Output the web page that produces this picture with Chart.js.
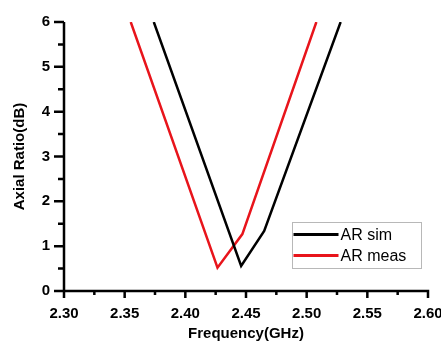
<!DOCTYPE html>
<html>
<head>
<meta charset="utf-8">
<script src="https://cdn.jsdelivr.net/npm/chart.js@4/dist/chart.umd.min.js"></script>
<style>
html,body{margin:0;padding:0;background:#fff;}
#wrap{width:441px;height:343px;position:relative;}
</style>
</head>
<body>
<div id="wrap"><canvas id="c" width="441" height="343"></canvas></div>
<script>
const simFreq = [2.374, 2.446, 2.465, 2.528];
const simAR   = [6, 0.56, 1.34, 6];
const measFreq = [2.355, 2.4265, 2.447, 2.508];
const measAR   = [6, 0.52, 1.27, 6];
const seriesLabels = ['AR sim', 'AR meas'];
const seriesColors = ['#000000', '#e8141b'];
const xTitle = 'Frequency(GHz)';
const yTitle = 'Axial Ratio(dB)';
const xMin = 2.30, xMax = 2.60, xStep = 0.05;
const yMin = 0, yMax = 6, yStep = 1;

const FONT = "'Liberation Sans', Arial, sans-serif";

const toPts = (xs, ys) => xs.map((x, i) => ({x: x, y: ys[i]}));

const axesAndTicks = {
  id: 'axesAndTicks',
  afterDraw(chart) {
    const ctx = chart.ctx;
    const xs = chart.scales.x, ys = chart.scales.y;
    const ca = chart.chartArea;
    ctx.save();
    ctx.strokeStyle = '#000';
    ctx.lineWidth = 2.5;
    ctx.lineCap = 'butt';
    ctx.beginPath();
    // axis lines
    ctx.moveTo(ca.left, ca.top);
    ctx.lineTo(ca.left, ca.bottom + 1.25);
    ctx.moveTo(ca.left - 1.25, ca.bottom);
    ctx.lineTo(ca.right + 1.25, ca.bottom);
    // x ticks
    xs.ticks.forEach(t => {
      const px = xs.getPixelForValue(t.value);
      ctx.moveTo(px, ca.bottom);
      ctx.lineTo(px, ca.bottom + 7);
    });
    for (let v = xMin + xStep / 2; v < xMax; v += xStep) {
      const px = xs.getPixelForValue(v);
      ctx.moveTo(px, ca.bottom);
      ctx.lineTo(px, ca.bottom + 4);
    }
    // y ticks
    ys.ticks.forEach(t => {
      const py = ys.getPixelForValue(t.value);
      ctx.moveTo(ca.left, py);
      ctx.lineTo(ca.left - 10, py);
    });
    for (let v = yMin + yStep / 2; v < yMax; v += yStep) {
      const py = ys.getPixelForValue(v);
      ctx.moveTo(ca.left, py);
      ctx.lineTo(ca.left - 6, py);
    }
    ctx.stroke();
    ctx.restore();
  }
};

const boxLegend = {
  id: 'boxLegend',
  afterDraw(chart) {
    const ctx = chart.ctx;
    const bx = 292.5, by = 222.5, bw = 129, bh = 46;
    ctx.save();
    ctx.strokeStyle = '#b8b8b8';
    ctx.lineWidth = 1;
    ctx.strokeRect(bx, by, bw, bh);
    ctx.font = '16px ' + FONT;
    ctx.textBaseline = 'middle';
    ctx.textAlign = 'left';
    chart.data.datasets.forEach((ds, i) => {
      const ly = by + 12 + i * 21;
      ctx.strokeStyle = ds.borderColor;
      ctx.lineWidth = 3;
      ctx.beginPath();
      ctx.moveTo(bx + 1, ly);
      ctx.lineTo(bx + 46, ly);
      ctx.stroke();
      ctx.fillStyle = '#000';
      ctx.fillText(ds.label, bx + 48, ly + 1);
    });
    ctx.restore();
  }
};

new Chart(document.getElementById('c'), {
  type: 'scatter',
  data: {
    datasets: [
      {label: seriesLabels[0], data: toPts(simFreq, simAR), showLine: true,
       borderColor: seriesColors[0], borderWidth: 2.5, pointRadius: 0, tension: 0},
      {label: seriesLabels[1], data: toPts(measFreq, measAR), showLine: true,
       borderColor: seriesColors[1], borderWidth: 2.5, pointRadius: 0, tension: 0}
    ]
  },
  options: {
    responsive: false,
    animation: false,
    devicePixelRatio: 1,
    layout: {padding: {top: 22, right: 13, left: 0, bottom: 0}},
    plugins: {legend: {display: false}, tooltip: {enabled: false}},
    scales: {
      x: {
        type: 'linear', min: xMin, max: xMax,
        border: {display: false},
        grid: {display: false, drawTicks: false},
        ticks: {stepSize: xStep, color: '#000', padding: 14, maxRotation: 0,
                font: {family: FONT, size: 15, weight: 'bold'},
                callback: v => Number(v).toFixed(2)},
        title: {display: true, text: xTitle, color: '#000', padding: {top: 2, bottom: 0},
                font: {family: FONT, size: 15, weight: 'bold'}},
        afterFit(s) { s.height = 52; s.paddingLeft = 0; s.paddingRight = 0; }
      },
      y: {
        type: 'linear', min: yMin, max: yMax,
        border: {display: false},
        grid: {display: false, drawTicks: false},
        ticks: {stepSize: yStep, color: '#000', padding: 14,
                font: {family: FONT, size: 15, weight: 'bold'}},
        title: {display: true, text: yTitle, color: '#000', padding: {top: 11, bottom: 0},
                font: {family: FONT, size: 15, weight: 'bold'}},
        afterFit(s) { s.width = 64; s.paddingTop = 0; s.paddingBottom = 0; }
      }
    }
  },
  plugins: [axesAndTicks, boxLegend]
});
</script>
</body>
</html>
